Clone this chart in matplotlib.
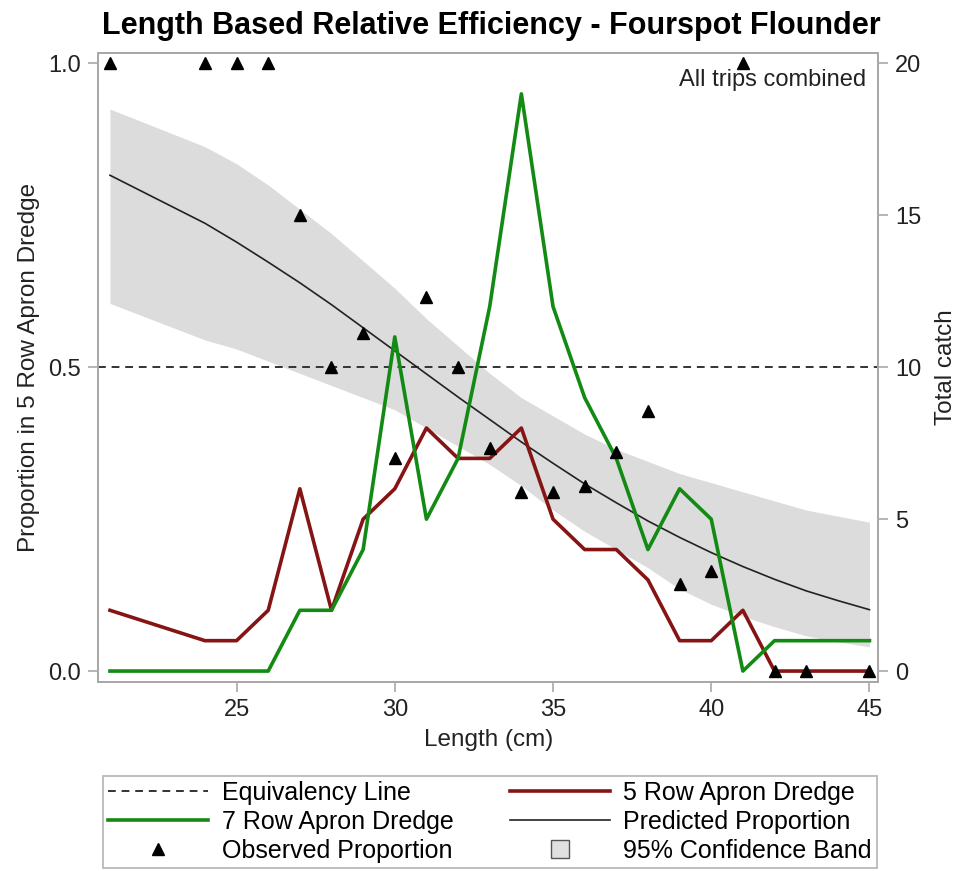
import matplotlib
matplotlib.use('Agg')
import matplotlib.pyplot as plt
from matplotlib.lines import Line2D

plt.rcParams['font.family'] = ['Liberation Sans', 'DejaVu Sans']

# lengths present in the data (no fish at 22, 23 cm)
lengths = [21, 24, 25, 26, 27, 28, 29, 30, 31, 32, 33, 34, 35,
           36, 37, 38, 39, 40, 41, 42, 43, 44, 45]

# catch per length class (right axis)
catch_5row = [2, 1, 1, 2, 6, 2, 5, 6, 8, 7, 7, 8, 5,
              4, 4, 3, 1, 1, 2, 0, 0, 0, 0]
catch_7row = [0, 0, 0, 0, 2, 2, 4, 11, 5, 7, 12, 19, 12,
              9, 7, 4, 6, 5, 0, 1, 1, 1, 1]

# model fit and 95% band (left axis)
pred = [0.816, 0.737, 0.706, 0.673, 0.639, 0.603, 0.565, 0.527, 0.489, 0.451, 0.414, 0.377, 0.342,
        0.308, 0.277, 0.247, 0.220, 0.195, 0.172, 0.151, 0.132, 0.116, 0.101]
upper = [0.925, 0.863, 0.835, 0.80, 0.76, 0.72, 0.675, 0.63, 0.58, 0.535, 0.49, 0.45, 0.42,
         0.39, 0.365, 0.345, 0.325, 0.31, 0.295, 0.28, 0.265, 0.255, 0.245]
lower = [0.605, 0.545, 0.53, 0.51, 0.49, 0.47, 0.45, 0.43, 0.40, 0.37, 0.34, 0.305, 0.265,
         0.23, 0.20, 0.17, 0.135, 0.11, 0.09, 0.073, 0.058, 0.048, 0.04]

# observed proportion in the 5 row dredge
obs_len = [21, 24, 25, 26, 27, 28, 29, 30, 31, 32, 33, 34, 35,
           36, 37, 38, 39, 40, 41, 42, 43, 45]
obs_prop = [1.0, 1.0, 1.0, 1.0, 0.75, 0.5, 0.556, 0.35, 0.615, 0.5, 0.367, 0.294, 0.294,
            0.305, 0.36, 0.428, 0.143, 0.165, 1.0, 0.0, 0.0, 0.0]

x_ticks = [25, 30, 35, 40, 45]

RED = '#861414'
GREEN = '#138a13'
FRAME = '#a8a8a8'
TXT = '#222222'
FS = 17

fig = plt.figure(figsize=(9.67, 8.71), dpi=100)
ax = fig.add_axes([0.1013, 0.217, 0.807, 0.722])
ax2 = ax.twinx()

ax.fill_between(lengths, lower, upper, color='#dcdcdc', lw=0, zorder=1)
ax.axhline(0.5, color='#333333', ls=(0, (4, 3)), lw=1.4, zorder=2)
ax.plot(lengths, pred, color='#222222', lw=1.2, zorder=3)

ax2.plot(lengths, catch_5row, color=RED, lw=2.6, zorder=4)
ax2.plot(lengths, catch_7row, color=GREEN, lw=2.6, zorder=4)
ax2.plot(obs_len, [p * 20 for p in obs_prop], '^', color='black', ms=9, zorder=5, clip_on=False)

ax.set_xlim(20.62, 45.28)
ax.set_ylim(-0.018, 1.017)
ax2.set_ylim(-0.36, 20.34)
ax.set_xticks(x_ticks)
ax.set_yticks([0.0, 0.5, 1.0])
ax.set_yticklabels(['0.0', '0.5', '1.0'])
ax2.set_yticks([0, 5, 10, 15, 20])

for a in (ax, ax2):
    for s in a.spines.values():
        s.set_color(FRAME)
        s.set_linewidth(1.3)
    a.tick_params(colors=FRAME, labelcolor=TXT, labelsize=FS, length=7, width=1.2,
                  direction='out', pad=5)

ax.set_xlabel('Length (cm)', fontsize=FS + 0.5, color=TXT, labelpad=6)
ax.set_ylabel('Proportion in 5 Row Apron Dredge', fontsize=FS + 0.5, color=TXT, labelpad=6)
ax2.set_ylabel('Total catch', fontsize=FS + 0.5, color=TXT, labelpad=10)

ax.text(0.985, 0.975, 'All trips combined', transform=ax.transAxes, ha='right', va='top',
        fontsize=FS, color=TXT)

fig.text(0.508, 1 - 26 / 871, 'Length Based Relative Efficiency - Fourspot Flounder',
         fontsize=22, fontweight='bold', ha='center', va='center')

handles = [
    Line2D([], [], color='#333333', ls=(0, (4, 3)), lw=1.4),
    Line2D([], [], color=GREEN, lw=2.6),
    Line2D([], [], color='black', marker='^', ls='none', ms=8),
    Line2D([], [], color=RED, lw=2.6),
    Line2D([], [], color='#222222', lw=1.2),
    Line2D([], [], marker='s', ls='none', ms=13, markerfacecolor='#e0e0e0',
           markeredgecolor='#555555', markeredgewidth=1.0),
]
labels = ['Equivalency Line', '7 Row Apron Dredge', 'Observed Proportion',
          '5 Row Apron Dredge', 'Predicted Proportion', '95% Confidence Band']
leg = fig.legend(handles, labels, ncol=2, loc='lower left', mode='expand',
                 bbox_to_anchor=(0.1065, 1 - 868 / 871, 0.8004, 0.0), fontsize=18,
                 frameon=True, fancybox=False, handlelength=4.0, handletextpad=0.55,
                 labelspacing=0.2, borderpad=0.2, columnspacing=1.0, borderaxespad=0)
leg.get_frame().set_edgecolor(FRAME)
leg.get_frame().set_linewidth(1.3)

plt.savefig('out.png', dpi=100)
plt.close()
